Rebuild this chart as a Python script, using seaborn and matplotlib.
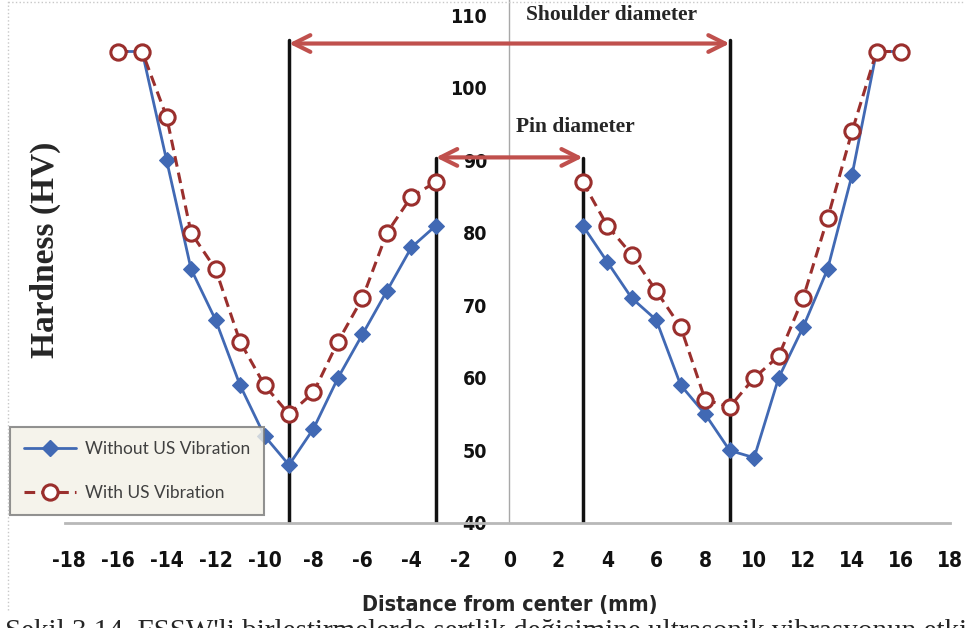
import matplotlib
matplotlib.use("Agg")
import matplotlib.pyplot as plt
import seaborn as sns
import pandas as pd
from matplotlib.lines import Line2D
from matplotlib import font_manager

# hardness profile across the weld
distance = [-16, -15, -14, -13, -12, -11, -10, -9, -8, -7, -6, -5, -4, -3,
            3, 4, 5, 6, 7, 8, 9, 10, 11, 12, 13, 14, 15, 16]
side = ["left"] * 14 + ["right"] * 14
hv_without = [105, 105, 90, 75, 68, 59, 52, 48, 53, 60, 66, 72, 78, 81,
              81, 76, 71, 68, 59, 55, 50, 49, 60, 67, 75, 88, 105, 105]
hv_with = [105, 105, 96, 80, 75, 65, 59, 55, 58, 65, 71, 80, 85, 87,
           87, 81, 77, 72, 67, 57, 56, 60, 63, 71, 82, 94, 105, 105]

shoulder_edges = [-9, 9]
pin_edges = [-3, 3]
x_ticks = list(range(-18, 19, 2))
y_ticks = [40, 50, 60, 70, 80, 90, 100, 110]

df = pd.DataFrame({"x": distance, "side": side,
                   "Without US Vibration": hv_without,
                   "With US Vibration": hv_with})

sns.set_theme(style="white")
plt.rcParams['font.family'] = ['DejaVu Sans']

# narrow bold font for ticks / axis title
narrow = font_manager.FontProperties(family="DejaVu Sans", weight="bold", stretch="condensed")

fig = plt.figure(figsize=(9.65, 6.28), dpi=100)
ax = fig.add_axes([65 / 965, 1 - 523 / 628, 885 / 965, 523 / 628])

blue = "#4169b4"
red = "#9a2f2d"
arrow_red = "#c0504d"

sns.lineplot(data=df, x="x", y="Without US Vibration", units="side", estimator=None,
             color=blue, lw=2, marker="D", ms=8, mfc=blue, mec=blue, ax=ax)
sns.lineplot(data=df, x="x", y="With US Vibration", units="side", estimator=None,
             color=red, lw=2.2, linestyle=(0, (3.5, 2)), marker="o", ms=11,
             mfc="white", mec=red, mew=2.2, ax=ax)

for s in ["top", "right"]:
    ax.spines[s].set_visible(False)
ax.spines["left"].set_position(("data", 0))
ax.spines["left"].set_color("#a8a8a8")
ax.spines["left"].set_linewidth(1)
ax.spines["bottom"].set_color("#b8b8b8")
ax.spines["bottom"].set_linewidth(2)

ax.set_xlim(-18.15, 17.83)
ax.set_ylim(40, 112.1)
ax.set_xticks(x_ticks)
ax.set_xticklabels([str(v) for v in x_ticks])
ax.set_yticks(y_ticks)
ax.set_yticklabels([str(v) for v in y_ticks])
for lab in ax.get_xticklabels():
    lab.set_fontproperties(narrow)
    lab.set_fontsize(15)
for lab in ax.get_yticklabels():
    lab.set_fontproperties(narrow)
    lab.set_fontsize(14)
ax.tick_params(axis="x", length=0, pad=20, colors="#111111")
ax.tick_params(axis="y", length=0, pad=16, colors="#111111")
ax.set_xlabel("")
ax.set_ylabel("")

# tool boundaries
for xe in shoulder_edges:
    ax.plot([xe, xe], [40, 106.6], color="#111111", lw=2.5, zorder=1)
for xe in pin_edges:
    ax.plot([xe, xe], [40, 90.3], color="#111111", lw=2.5, zorder=1)

ax.annotate("", xy=(shoulder_edges[0], 106.1), xytext=(shoulder_edges[1], 106.1),
            arrowprops=dict(arrowstyle="<->", color=arrow_red, lw=3,
                            mutation_scale=30, shrinkA=0, shrinkB=0))
ax.annotate("", xy=(pin_edges[0], 90.4), xytext=(pin_edges[1], 90.4),
            arrowprops=dict(arrowstyle="<->", color=arrow_red, lw=3,
                            mutation_scale=30, shrinkA=0, shrinkB=0))
ax.text(0.67, 110, "Shoulder diameter", fontsize=15.5, fontweight="bold",
        family=["Liberation Serif"], va="center", ha="left")
ax.text(0.27, 94.6, "Pin diameter", fontsize=15.5, fontweight="bold",
        family=["Liberation Serif"], va="center", ha="left")

xl = fig.text(510 / 965, 1 - 605 / 628, "Distance from center (mm)", ha="center", va="center")
xl.set_fontproperties(narrow)
xl.set_fontsize(15.5)
fig.text(45 / 965, 1 - 250 / 628, "Hardness (HV)", fontsize=24, fontweight="bold",
         family=["Liberation Serif"], rotation=90, ha="center", va="center")

handles = [Line2D([], [], color=blue, lw=2, marker="D", ms=8, mfc=blue, mec=blue),
           Line2D([], [], color=red, lw=2.2, linestyle=(0, (3.5, 2)), marker="o",
                  ms=11, mfc="white", mec=red, mew=2.2)]
leg = ax.legend(handles, ["Without US Vibration", "With US Vibration"],
                loc="lower left", bbox_to_anchor=(10 / 965, 113 / 628),
                bbox_transform=fig.transFigure, frameon=True, borderaxespad=0,
                handlelength=3, borderpad=0.8, labelspacing=1.6, fancybox=False,
                handletextpad=0.5, prop={"family": ["Lato", "DejaVu Sans"], "size": 12.5})
for t in leg.get_texts():
    t.set_color("#404040")
leg.get_frame().set_facecolor("#f3f1e7")
leg.get_frame().set_edgecolor("#777777")
leg.get_frame().set_linewidth(1.5)

# clipped caption at the bottom of the scanned page
fig.text(5 / 965, 1 - 619 / 628, "Şekil 3.14. FSSW'li birleştirmelerde sertlik değişimine ultrasonik vibrasyonun etkisi",
         fontsize=21, family=["Liberation Serif"], ha="left", va="top")

# dotted frame of the original picture
fig.add_artist(Line2D([8 / 965, 8 / 965], [1 - 610 / 628, 1], transform=fig.transFigure,
                      color="#c8c8c8", lw=1, linestyle=":"))
fig.add_artist(Line2D([8 / 965, 1], [1 - 2 / 628, 1 - 2 / 628], transform=fig.transFigure,
                      color="#c8c8c8", lw=1, linestyle=":"))

fig.savefig("out.png", dpi=100)
